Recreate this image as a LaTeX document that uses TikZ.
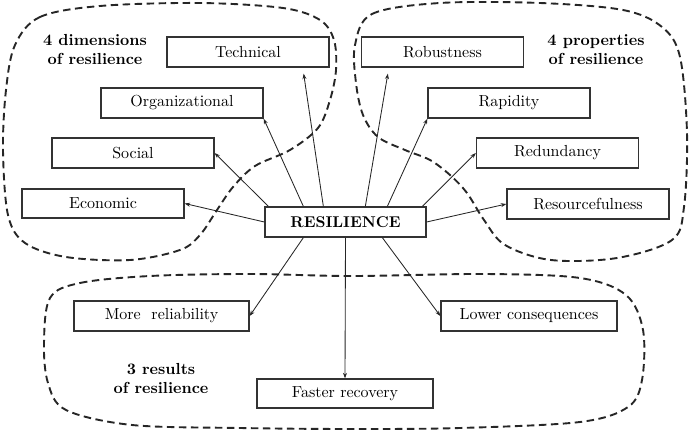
\documentclass[tikz,border=0pt]{standalone}
\usepackage{graphicx}
\usetikzlibrary{arrows.meta,calc}
\newcommand{\bt}[1]{\scalebox{1.6}{\fontsize{10}{12}\selectfont #1}}
\newcommand{\bl}[1]{\scalebox{1.6}{\fontsize{10}{12}\selectfont\bfseries\begin{tabular}{@{}c@{}}#1\end{tabular}}}
\begin{document}
\begin{tikzpicture}[x=1pt,y=-1pt,
  box/.style={draw=black!80,line width=1.3pt,minimum height=30pt,inner sep=0pt},
  bw/.style={box,minimum width=162pt},
  ww/.style={box,minimum width=176pt},
  lbl/.style={inner sep=0pt},
  region/.style={draw=black!85,line width=1.9pt,dash pattern=on 7.5pt off 4.5pt},
  arr/.style={draw=black!85,line width=0.85pt,-{Stealth[length=5.5pt,width=4pt]}}]
\useasboundingbox (0,0) rectangle (690,430);

% dashed regions
\draw[region] plot[smooth cycle,tension=0.55] coordinates {
 (15,45) (40,17) (100,6) (200,3) (283,8) (320,20) (334,40) (336,70) (330,100)
 (318,128) (290,150) (255,166) (233,187) (217,210) (200,235) (180,250) (130,260)
 (66,257) (25,243) (8,215) (3,150) (6,90)};
\draw[region] plot[smooth cycle,tension=0.55] coordinates {
 (355,45) (372,14) (440,3) (540,3) (623,10) (662,27) (680,57) (687,133) (684,207)
 (672,240) (617,258) (551,260) (505,245) (484,220) (467,193) (450,175) (430,160)
 (405,150) (378,137) (363,115) (356,83)};
\draw[region] plot[smooth cycle,tension=0.55] coordinates {
 (50,298) (80,283) (150,276) (250,274) (352,276) (485,274) (580,278) (626,295)
 (643,330) (642,380) (628,407) (580,422) (460,428) (352,429) (240,428) (132,425)
 (66,410) (48,383) (44,343)};

% boxes
\node[bw] (tech) at (248,52) {\bt{Technical}};
\node[bw] (org) at (182,103) {\bt{Organizational}};
\node[bw] (soc) at (133,153) {\bt{Social}};
\node[bw,minimum height=29pt] (eco) at (103,203.5) {\bt{Economic}};
\node[bw] (rob) at (442.5,52) {\bt{Robustness}};
\node[bw] (rap) at (509,103) {\bt{Rapidity}};
\node[bw] (red) at (557.5,153) {\bt{Redundancy}};
\node[bw] (rsf) at (588,204) {\bt{Resourcefulness}};
\node[box,minimum width=161pt] (res) at (345.5,222) {\scalebox{1.56}{\fontsize{10}{12}\selectfont\bfseries RESILIENCE}};
\node[box,minimum width=175pt] (rel) at (161.5,316) {\bt{More~ reliability}};
\node[ww] (low) at (529,316) {\bt{Lower consequences}};
\node[ww,minimum height=29pt] (fast) at (345,393.5) {\bt{Faster recovery}};

% labels
\node[lbl] (l1) at (95,51.5) {\bl{4 dimensions\\of resilience}};
\node[lbl] (l2) at (596,51.5) {\bl{4 properties\\of resilience}};
\node[lbl] (l3) at (161,380) {\bl{3 results\\of resilience}};

% arrows
\draw[arr] (res.west) -- (eco.east);
\draw[arr] ([xshift=4pt]res.north west) -- (soc.east);
\draw[arr] ([xshift=39pt]res.north west) -- (org.south east);
\draw[arr] ([xshift=59pt]res.north west) -- ([xshift=-26pt,yshift=-6pt]tech.south east);
\draw[arr] ([xshift=101pt]res.north west) -- ([xshift=27pt,yshift=-6pt]rob.south west);
\draw[arr] ([xshift=123pt]res.north west) -- (rap.south west);
\draw[arr] ([xshift=158pt]res.north west) -- (red.west);
\draw[arr] (res.east) -- (rsf.west);
\draw[arr] ([xshift=39pt]res.south west) -- (rel.east);
\draw[arr] (res.south) -- (fast.north);
\draw[arr] ([xshift=118pt]res.south west) -- (low.west);
\end{tikzpicture}
\end{document}
